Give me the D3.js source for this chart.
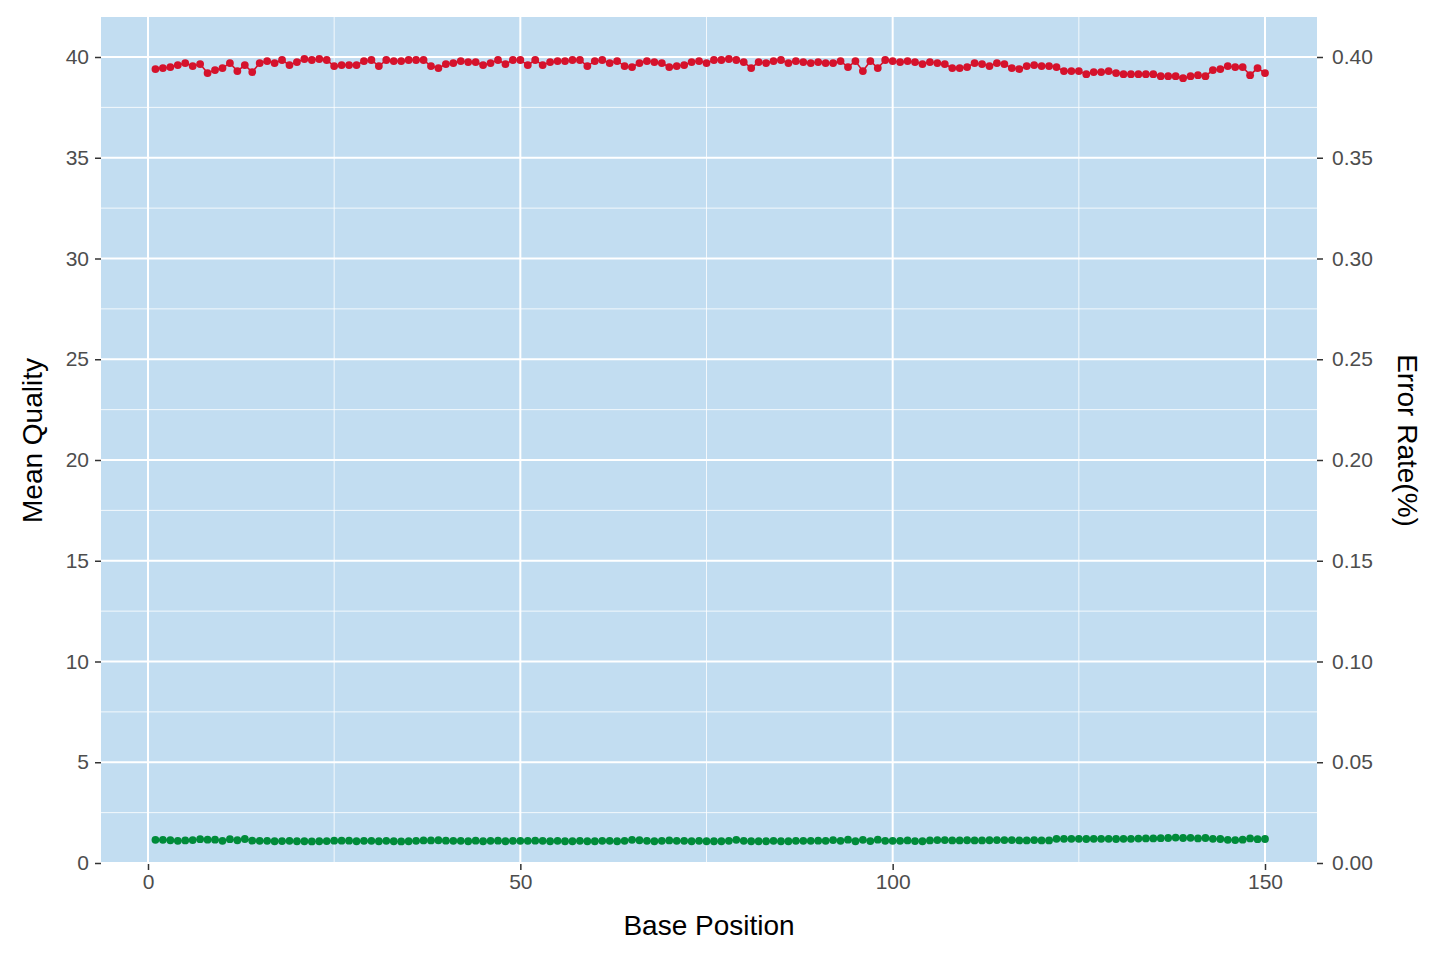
<!DOCTYPE html>
<html><head><meta charset="utf-8">
<script src="https://cdn.jsdelivr.net/npm/d3@7"></script>
<style>body{margin:0;background:#fff}text{font-family:"Liberation Sans",Arial,sans-serif}</style>
</head><body><svg id="c" width="1440" height="960"></svg>
<script>
const quality = [39.4,39.45,39.5,39.6,39.7,39.55,39.65,39.2,39.35,39.45,39.7,39.3,39.6,39.25,39.7,39.8,39.7,39.85,39.6,39.75,39.9,39.85,39.9,39.85,39.55,39.6,39.6,39.6,39.8,39.85,39.55,39.85,39.8,39.8,39.85,39.85,39.85,39.55,39.45,39.65,39.7,39.8,39.75,39.75,39.6,39.7,39.85,39.65,39.85,39.85,
39.6,39.85,39.6,39.75,39.8,39.8,39.85,39.85,39.55,39.8,39.85,39.7,39.8,39.55,39.5,39.7,39.8,39.75,39.7,39.5,39.55,39.6,39.75,39.8,39.7,39.85,39.85,39.9,39.85,39.75,39.45,39.75,39.7,39.8,39.85,39.7,39.8,39.75,39.7,39.75,39.7,39.7,39.8,39.5,39.8,39.3,39.8,39.45,39.85,39.8,
39.75,39.8,39.75,39.65,39.75,39.7,39.65,39.45,39.45,39.5,39.7,39.65,39.55,39.7,39.65,39.45,39.4,39.55,39.6,39.55,39.55,39.5,39.3,39.3,39.3,39.15,39.25,39.25,39.3,39.2,39.15,39.15,39.15,39.15,39.15,39.05,39.05,39.05,38.95,39.05,39.1,39.05,39.35,39.4,39.55,39.5,39.5,39.1,39.45,39.2];
const errorRate = [0.0115,0.0115,0.0113,0.0110,0.0112,0.0114,0.0118,0.0116,0.0116,0.0110,0.0118,0.0113,0.0119,0.0111,0.0110,0.0110,0.0108,0.0109,0.0110,0.0108,0.0108,0.0107,0.0108,0.0109,0.0111,0.0111,0.0111,0.0108,0.0110,0.0110,0.0108,0.0110,0.0108,0.0107,0.0108,0.0110,0.0112,0.0112,0.0113,0.0111,0.0110,0.0110,0.0108,0.0111,0.0108,0.0110,0.0111,0.0108,0.0110,0.0110,
0.0110,0.0111,0.0110,0.0108,0.0110,0.0108,0.0108,0.0110,0.0108,0.0108,0.0110,0.0110,0.0108,0.0110,0.0115,0.0113,0.0110,0.0108,0.0110,0.0112,0.0110,0.0110,0.0108,0.0110,0.0108,0.0108,0.0108,0.0110,0.0115,0.0110,0.0108,0.0108,0.0108,0.0110,0.0108,0.0108,0.0110,0.0110,0.0110,0.0111,0.0110,0.0114,0.0110,0.0116,0.0108,0.0115,0.0109,0.0116,0.0110,0.0110,
0.0110,0.0112,0.0109,0.0108,0.0112,0.0114,0.0114,0.0112,0.0112,0.0113,0.0112,0.0112,0.0113,0.0114,0.0114,0.0114,0.0112,0.0112,0.0114,0.0112,0.0112,0.0120,0.0120,0.0120,0.0120,0.0119,0.0120,0.0120,0.0120,0.0119,0.0120,0.0120,0.0121,0.0122,0.0122,0.0123,0.0124,0.0126,0.0124,0.0125,0.0122,0.0124,0.0120,0.0119,0.0115,0.0114,0.0116,0.0122,0.0118,0.0119];
const positions = quality.map((d,i)=>i+1);
const yTicks = [0,5,10,15,20,25,30,35,40];
const xTicks = [0,50,100,150];

const svg = d3.select("#c");
const L=101,R=1317,T=17,B=864;
const x = d3.scaleLinear().domain([0,150]).range([148,1265]);
const y = d3.scaleLinear().domain([0,40]).range([863,57]);
const y2 = d3.scaleLinear().domain([0,0.4]).range([863,57]);

svg.append("rect").attr("x",L).attr("y",T).attr("width",R-L).attr("height",B-T).attr("fill","#C2DDF1");
const g = svg.append("g");
[25,75,125].forEach(v=>g.append("line").attr("x1",x(v)).attr("x2",x(v)).attr("y1",T).attr("y2",B).attr("stroke","#fff").attr("stroke-width",0.8));
d3.range(2.5,42,5).forEach(v=>g.append("line").attr("x1",L).attr("x2",R).attr("y1",y(v)).attr("y2",y(v)).attr("stroke","#fff").attr("stroke-width",0.8));
xTicks.forEach(v=>g.append("line").attr("x1",x(v)).attr("x2",x(v)).attr("y1",T).attr("y2",B).attr("stroke","#fff").attr("stroke-width",2));
yTicks.forEach(v=>g.append("line").attr("x1",L).attr("x2",R).attr("y1",y(v)).attr("y2",y(v)).attr("stroke","#fff").attr("stroke-width",2));

function series(vals, sc, col){
  const line = d3.line().x((d,i)=>x(positions[i])).y(d=>sc(d));
  svg.append("path").attr("d",line(vals)).attr("fill","none").attr("stroke",col).attr("stroke-width",1.6);
  svg.selectAll(null).data(vals).enter().append("circle")
    .attr("cx",(d,i)=>x(positions[i])).attr("cy",d=>sc(d)).attr("r",3.9).attr("fill",col);
}
series(quality,y,"#D5122C");
series(errorRate,y2,"#008B3A");

const ax = svg.append("g").attr("transform",`translate(0,${B})`).call(d3.axisBottom(x).tickValues(xTicks).tickSize(6).tickPadding(4));
const ay = svg.append("g").attr("transform",`translate(${L},0)`).call(d3.axisLeft(y).tickValues(yTicks).tickSize(6).tickPadding(6));
const ay2 = svg.append("g").attr("transform",`translate(${R},0)`).call(d3.axisRight(y2).tickValues(yTicks.map(v=>v/100)).tickFormat(d3.format(".2f")).tickSize(6).tickPadding(9));
[ax,ay,ay2].forEach(a=>{a.select(".domain").remove();a.selectAll("line").attr("stroke","#333").attr("stroke-width",1.5);
  a.selectAll("text").attr("fill","#4d4d4d").style("font-size","21px").style("font-family","Liberation Sans, Arial");});

svg.append("text").attr("x",(L+R)/2).attr("y",935).attr("text-anchor","middle").style("font-size","28px").text("Base Position");
svg.append("text").attr("transform",`translate(42,${(T+B)/2}) rotate(-90)`).attr("text-anchor","middle").style("font-size","28px").text("Mean Quality");
svg.append("text").attr("transform",`translate(1398,${(T+B)/2}) rotate(90)`).attr("text-anchor","middle").style("font-size","28px").text("Error Rate(%)");
</script></body></html>
